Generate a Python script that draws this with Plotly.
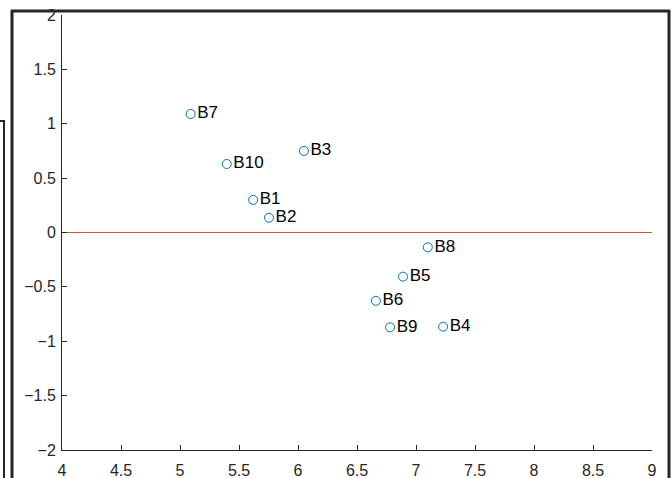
import plotly.graph_objects as go

labels = ["B1", "B2", "B3", "B4", "B5", "B6", "B7", "B8", "B9", "B10"]
x_vals = [5.62, 5.754, 6.05, 7.23, 6.89, 6.66, 5.09, 7.10, 6.78, 5.396]
y_vals = [0.30, 0.136, 0.75, -0.866, -0.406, -0.628, 1.09, -0.136, -0.872, 0.63]
ref_x = [4, 9]
ref_y = [0, 0]
x_ticks = [4, 4.5, 5, 5.5, 6, 6.5, 7, 7.5, 8, 8.5, 9]
y_ticks = [-2, -1.5, -1, -0.5, 0, 0.5, 1, 1.5, 2]

W, H = 672, 478
L, R, T, B = 62, 20, 15, 28
pw, ph = W - L - R, H - T - B

def px(xp):
    return (xp - L) / pw

def py(yp):
    return (H - B - yp) / ph

def fmt(v):
    s = f"{v:g}"
    return s.replace("-", "\u2212")

fig = go.Figure()
fig.add_trace(go.Scatter(x=ref_x, y=ref_y, mode="lines",
                         line=dict(color="#D95319", width=1), hoverinfo="skip"))
fig.add_trace(go.Scatter(x=x_vals, y=y_vals, mode="markers+text",
                         text=labels, textposition="middle right",
                         textfont=dict(family="Liberation Sans, Arial", size=17, color="#000000"),
                         marker=dict(symbol="circle-open", size=9,
                                     color="#0072BD", line=dict(width=1, color="#0072BD"))))

frame_col = "#262626"
shapes = [
    dict(type="line", xref="paper", yref="paper", x0=px(12), x1=px(12), y0=py(10), y1=py(480),
         line=dict(color=frame_col, width=3)),
    dict(type="line", xref="paper", yref="paper", x0=px(11), x1=px(670), y0=py(11), y1=py(11),
         line=dict(color=frame_col, width=3)),
    dict(type="line", xref="paper", yref="paper", x0=px(669), x1=px(669), y0=py(10), y1=py(480),
         line=dict(color=frame_col, width=3)),
    dict(type="line", xref="paper", yref="paper", x0=px(4), x1=px(4), y0=py(121), y1=py(480),
         line=dict(color=frame_col, width=2)),
    dict(type="line", xref="paper", yref="paper", x0=px(-2), x1=px(5), y0=py(121), y1=py(121),
         line=dict(color=frame_col, width=2)),
]

axis_font = dict(family="Liberation Sans, Arial", size=16, color="#262626")
fig.update_layout(
    width=W, height=H,
    margin=dict(l=L, r=R, t=T, b=B, pad=0, autoexpand=False),
    paper_bgcolor="white", plot_bgcolor="white",
    showlegend=False,
    shapes=shapes,
    xaxis=dict(range=[4, 9], tickvals=x_ticks, ticktext=[fmt(v) for v in x_ticks],
               showgrid=False, zeroline=False, showline=True, linecolor="#262626", linewidth=1,
               ticks="inside", ticklen=5, tickcolor="#262626", tickfont=axis_font,
               ticklabelstandoff=6, automargin=False),
    yaxis=dict(range=[-2, 2], tickvals=y_ticks, ticktext=[fmt(v) for v in y_ticks],
               showgrid=False, zeroline=False, showline=True, linecolor="#262626", linewidth=1,
               ticks="inside", ticklen=5, tickcolor="#262626", tickfont=axis_font,
               ticklabelstandoff=2, automargin=False),
)
fig.write_html("out.html", config={"displayModeBar": False},
               post_script="document.body.style.margin='0px';document.body.style.overflow='hidden';")
